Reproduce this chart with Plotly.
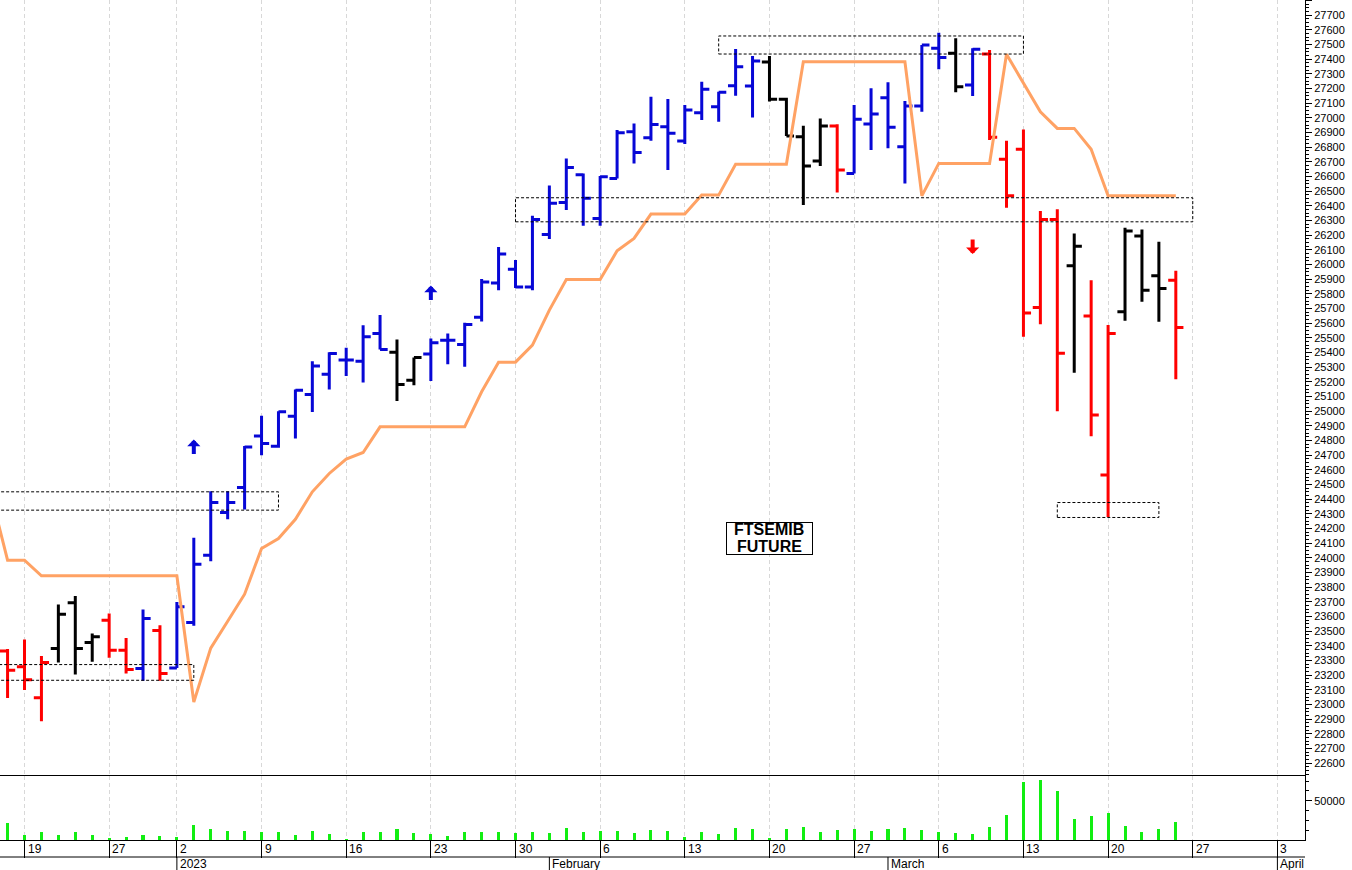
import pandas as pd
import plotly.graph_objects as go

# ---------------- data ----------------
trading_days = pd.bdate_range("2022-12-15", "2023-04-07", freq="C", holidays=["2022-12-26"])
day_str = [d.strftime("%Y-%m-%d") for d in trading_days]
pos = {d: i for i, d in enumerate(day_str)}

bar_dates = day_str[1:71]          # 16 Dec 2022 .. 24 Mar 2023

open_ = [23363, 23257, 23045, 23380, 23693, 23421, 23574, 23369, 23245, 23504,
         23248, 23558, 24017, 24308, 24478, 24830, 24760, 24965, 25113, 25251,
         25347, 25340, 25529, 25400, 25210, 25388, 25483, 25454, 25640, 25872,
         25966, 25845, 26204, 26421, 26610, 26313, 26586, 26904, 26863, 26938,
         26841, 27034, 27075, 27218, 27216, 27380, 27125, 26870, 26704, 26943,
         26620, 26957, 27136, 26802, 27079, 27473, 27439, 27223, 27434, 26716,
         26784, 25706, 26306, 25990, 25647, 24563, 25676, 26193, 25922, 25892]
high = [23377, 23442, 23330, 23680, 23738, 23483, 23620, 23453, 23647, 23540,
        23698, 24135, 24453, 24453, 24762, 24967, 24999, 25147, 25340, 25400,
        25431, 25585, 25654, 25488, 25365, 25494, 25529, 25601, 25900, 26118,
        26029, 26331, 26537, 26722, 26620, 26602, 26916, 26961, 27143, 27127,
        27086, 27245, 27177, 27468, 27420, 27420, 27136, 26945, 26995, 26955,
        27086, 27200, 27241, 27113, 27495, 27579, 27541, 27473, 27461, 26843,
        26920, 26363, 26375, 26211, 25892, 25586, 26249, 26238, 26154, 25956]
low = [23043, 23097, 22885, 23285, 23203, 23290, 23317, 23210, 23160, 23160,
       23248, 23535, 23975, 24262, 24328, 24699, 24749, 24813, 24994, 25147,
       25238, 25195, 25420, 25069, 25176, 25204, 25319, 25301, 25610, 25824,
       25838, 25824, 26172, 26370, 26263, 26263, 26586, 26688, 26843, 26643,
       26820, 26984, 26972, 27150, 27002, 27110, 26875, 26404, 26670, 26490,
       26620, 26779, 26791, 26552, 27040, 27330, 27173, 27148, 26847, 26386,
       25506, 25592, 24998, 25260, 24828, 24278, 25615, 25745, 25608, 25216]
close = [23233, 23167, 23285, 23614, 23380, 23460, 23369, 23238, 23586, 23210,
         23665, 23955, 24376, 24376, 24755, 24779, 24995, 25142, 25306, 25392,
         25347, 25506, 25420, 25181, 25365, 25465, 25483, 25590, 25880, 26070,
         25845, 26306, 26416, 26661, 26450, 26598, 26897, 26763, 26954, 26893,
         27052, 27193, 27173, 27347, 27386, 27125, 26875, 26670, 26943, 26643,
         26989, 27025, 26934, 27079, 27495, 27411, 27211, 27466, 26866, 26468,
         25669, 26306, 25393, 26124, 24972, 25529, 26227, 25824, 25836, 25570]
# trend colour of every bar: r = red, k = black, b = blue
trend = ["r", "r", "r", "k", "k", "k", "r", "r", "b", "r",
         "b", "b", "b", "b", "b", "b", "b", "b", "b", "b",
         "b", "b", "b", "k", "k", "b", "b", "b", "b", "b",
         "b", "b", "b", "b", "b", "b", "b", "b", "b", "b",
         "b", "b", "b", "b", "b", "k", "k", "k", "k", "r",
         "b", "b", "b", "b", "b", "b", "k", "b", "r", "r",
         "r", "r", "r", "k", "r", "r", "k", "k", "k", "r"]
volume = [21200, 6400, 9700, 6800, 9700, 5900, 2100, 3400, 5900, 5500,
          3400, 19100, 14400, 11000, 11900, 10600, 9700, 6800, 11900, 7200,
          850, 9700, 9700, 14400, 8500, 7200, 5500, 9700, 9700, 10600,
          8500, 10600, 9300, 15700, 10600, 11900, 11900, 8500, 12300, 11900,
          4200, 10200, 7200, 14800, 13600, 3000, 13600, 16500, 9700, 12700,
          14400, 11000, 13600, 14800, 12300, 10200, 8500, 7600, 16100, 31800,
          73300, 76300, 62300, 26300, 30500, 33900, 17800, 10600, 13600, 22900]

stop_dates = day_str[0:71]          # 15 Dec 2022 .. 24 Mar 2023
stop_line = [24440, 23983, 23983, 23876, 23876, 23876, 23876, 23876, 23876, 23876,
             23876, 23876, 23016, 23383, 23567, 23751, 24063, 24131, 24262, 24449,
             24574, 24672, 24717, 24892, 24892, 24892, 24892, 24892, 24892, 25131,
             25333, 25333, 25449, 25688, 25897, 25897, 25897, 26092, 26177, 26343,
             26343, 26343, 26472, 26472, 26682, 26682, 26682, 26682, 27381, 27381,
             27381, 27381, 27381, 27381, 27381, 26467, 26688, 26688, 26688, 26688,
             27432, 27236, 27040, 26927, 26927, 26784, 26467, 26467, 26467, 26467,
             26467]

# dashed support / resistance boxes: (start date or None = beyond left edge, end date, low, high)
boxes = [(None, "2023-01-10", 24324, 24449),
         (None, "2023-01-03", 23164, 23271),
         ("2023-01-30", "2023-03-27", 26290, 26454),
         ("2023-02-15", "2023-03-13", 27434, 27557),
         ("2023-03-15", "2023-03-23", 24274, 24376)]

# signal arrows: (date, tip price, direction)
arrows = [("2023-01-03", 24805, "up"), ("2023-01-23", 25855, "up"), ("2023-03-08", 26070, "down")]

week_ticks = ["2022-12-19", "2022-12-27", "2023-01-02", "2023-01-09", "2023-01-16", "2023-01-23",
              "2023-01-30", "2023-02-06", "2023-02-13", "2023-02-20", "2023-02-27", "2023-03-06",
              "2023-03-13", "2023-03-20", "2023-03-27", "2023-04-03"]
week_labels = ["19", "27", "2", "9", "16", "23", "30", "6", "13", "20", "27", "6", "13", "20", "27", "3"]
month_ticks = ["2023-01-02", "2023-02-01", "2023-03-01", "2023-04-03"]
month_labels = ["2023", "February", "March", "April"]

title_lines = ["FTSEMIB", "FUTURE"]

# ---------------- figure ----------------
COL = {"b": "#0707d6", "k": "#000000", "r": "#ff0000"}
FONT = "Liberation Sans, Arial, sans-serif"
PLOT_H = 840.0
VOL_FR = 64 / PLOT_H

x_bars = [pos[d] for d in bar_dates]
x0 = pos["2022-12-19"]
xrange = [x0 - 1.447, x0 + 75.63]

fig = go.Figure()

fig.add_trace(go.Scatter(x=[pos[d] for d in stop_dates], y=stop_line, mode="lines",
                         line=dict(color="#ffa264", width=3), hoverinfo="skip",
                         xaxis="x", yaxis="y"))

for code in ["b", "k", "r"]:
    idx = [i for i, t in enumerate(trend) if t == code]
    fig.add_trace(go.Ohlc(
        x=[x_bars[i] for i in idx],
        open=[open_[i] for i in idx], high=[high[i] for i in idx],
        low=[low[i] for i in idx], close=[close[i] for i in idx],
        increasing=dict(line=dict(color=COL[code], width=3)),
        decreasing=dict(line=dict(color=COL[code], width=3)),
        tickwidth=0.45, hoverinfo="skip", xaxis="x", yaxis="y"))

fig.add_trace(go.Bar(x=x_bars, y=volume, width=0.18, marker=dict(color="#12ee12", line=dict(width=0)),
                     hoverinfo="skip", xaxis="x2", yaxis="y2"))

shapes = []
for start, end, lo, hi in boxes:
    xs = pos[start] if start else xrange[0] - 2
    shapes.append(dict(type="rect", xref="x", yref="y", x0=xs, x1=pos[end], y0=lo, y1=hi,
                       line=dict(color="black", width=1, dash="3px,2px"), fillcolor="rgba(0,0,0,0)"))
# label row separator and month separators
shapes.append(dict(type="line", xref="paper", yref="paper", x0=0, x1=1,
                   y0=-17 / PLOT_H, y1=-17 / PLOT_H, line=dict(color="black", width=1)))
for d in month_ticks:
    shapes.append(dict(type="line", xref="x2", yref="paper", x0=pos[d], x1=pos[d],
                       y0=-17 / PLOT_H, y1=-31 / PLOT_H, line=dict(color="black", width=1)))

annotations = []
for d, lab in zip(week_ticks, week_labels):
    annotations.append(dict(x=pos[d], y=-8.5 / PLOT_H, xref="x2", yref="paper", text=lab,
                            showarrow=False, xanchor="left", yanchor="middle", xshift=1,
                            font=dict(family=FONT, size=12, color="black")))
for d, lab in zip(month_ticks, month_labels):
    annotations.append(dict(x=pos[d], y=-24 / PLOT_H, xref="x2", yref="paper", text=lab,
                            showarrow=False, xanchor="left", yanchor="middle", xshift=1,
                            font=dict(family=FONT, size=12, color="black")))
for d, p, direction in arrows:
    c = COL["b"] if direction == "up" else COL["r"]
    annotations.append(dict(x=pos[d], y=p, xref="x", yref="y", text="", showarrow=True,
                            ax=0, ay=16 if direction == "up" else -16,
                            arrowhead=1, arrowsize=0.55, arrowwidth=4, arrowcolor=c, standoff=0))
# title box
tx, ty = pos["2023-02-20"], 24133
annotations.append(dict(x=tx, y=ty, xref="x", yref="y", text=" ", showarrow=False,
                        width=85, height=31, bgcolor="white", bordercolor="black",
                        borderwidth=1, borderpad=0))
for k, line in enumerate(title_lines):
    annotations.append(dict(x=tx, y=ty, xref="x", yref="y", text="<b>%s</b>" % line,
                            showarrow=False, yshift=8.5 - 17 * k,
                            font=dict(family=FONT, size=16, color="black")))

grid = dict(showgrid=True, gridcolor="#d8d8d8", griddash="4px,3px", gridwidth=1)
tickv = [pos[d] for d in week_ticks]

fig.update_layout(
    width=1352, height=870, autosize=False,
    margin=dict(l=0, r=47, t=0, b=30),
    paper_bgcolor="white", plot_bgcolor="white",
    showlegend=False, bargap=0,
    font=dict(family=FONT, size=11, color="black"),
    xaxis=dict(domain=[0, 1], anchor="y", range=xrange, tickmode="array", tickvals=tickv,
               showticklabels=False, ticks="", zeroline=False, showline=False,
               rangeslider=dict(visible=False), **grid),
    xaxis2=dict(domain=[0, 1], anchor="y2", matches="x", range=xrange, tickmode="array",
                tickvals=tickv, showticklabels=False, ticks="outside", ticklen=17,
                tickcolor="black", tickwidth=1, showline=True, linecolor="black",
                linewidth=1, mirror=True, zeroline=False, **grid),
    yaxis=dict(domain=[VOL_FR, 1], anchor="x", side="right", range=[22511.4, 27802.3],
               dtick=100, tick0=0, tickformat="d", ticks="outside", ticklen=6, tickcolor="black",
               showline=True, linecolor="black", linewidth=1, showgrid=False, zeroline=False,
               tickfont=dict(family=FONT, size=11, color="black"),
               minor=dict(ticks="outside", ticklen=3, dtick=25, tickcolor="black")),
    yaxis2=dict(domain=[0, VOL_FR], anchor="x2", side="right", range=[0, 81400],
                tickmode="array", tickvals=[50000], ticktext=["50000"], ticks="outside",
                ticklen=6, tickcolor="black", showline=True, linecolor="black", linewidth=1,
                showgrid=False, zeroline=False,
                tickfont=dict(family=FONT, size=11, color="black"),
                minor=dict(ticks="outside", ticklen=3, tickvals=[12500, 25000, 37500, 62500, 75000],
                           tickcolor="black")),
    shapes=shapes, annotations=annotations,
)

fig.write_html("out.html", config={"displayModeBar": False},
               post_script="document.body.style.margin='0px';"
                           "document.body.style.overflow='hidden';")
